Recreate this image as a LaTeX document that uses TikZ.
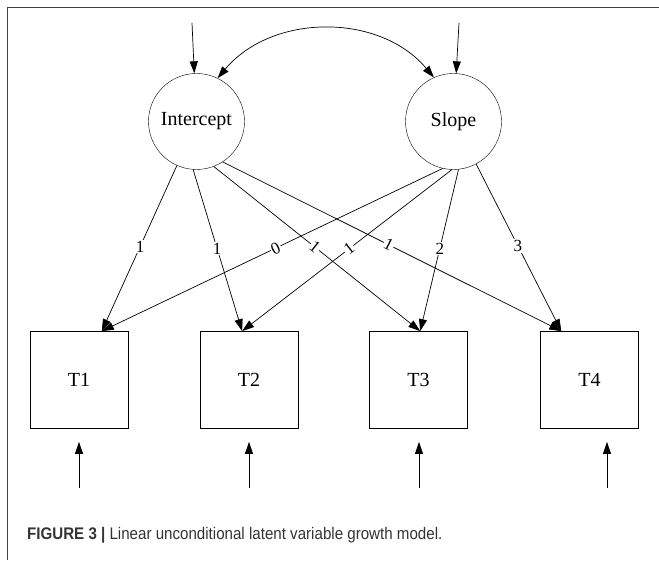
\documentclass[tikz,border=0pt]{standalone}
\usepackage{fontspec}
\setmainfont{Liberation Serif}
\newfontfamily\capfont{Liberation Sans}
\usetikzlibrary{arrows.meta, positioning}

\begin{document}
\begin{tikzpicture}[x=1pt,y=1pt,>={Triangle[length=12pt,width=8pt]},
		latent/.style={draw,circle,minimum size=96pt,inner sep=0pt,font=\fontsize{20}{24}\selectfont},
		obs/.style={draw,rectangle,minimum width=98pt,minimum height=97pt,inner sep=0pt,line width=0.8pt,font=\fontsize{20}{24}\selectfont},
		load/.style={->,line width=0.7pt},
		lbl/.style={fill=white,inner sep=1pt,pos=0.49,font=\fontsize{17}{19}\selectfont}]
		\useasboundingbox (0,0) rectangle (659,560);
		\draw [line width=0.8pt,color=black!75] (7,0) -- (7,553) -- (659,553);
		% latent growth factors
		\node [latent] (int) at (196.5,438.5) {Intercept};
		\node [latent] (sl) at (453.5,438.5) {Slope};
		% repeated measures
		\node [obs] (t1) at (79,180) {T1};
		\node [obs] (t2) at (249,180) {T2};
		\node [obs] (t3) at (418.5,180) {T3};
		\node [obs] (t4) at (589.5,180) {T4};
		% disturbances and residuals
		\coordinate (eint) at (192,537);
		\coordinate (esl) at (459,537);
		\coordinate (e1) at (79,72);
		\coordinate (e2) at (249,72);
		\coordinate (e3) at (419,72);
		\coordinate (e4) at (607,72);
		\draw [load] (eint) -- (int);
		\draw [load] (esl) -- (sl);
		\draw [load,shorten >=13pt] (e1) -- (e1 |- t1.south);
		\draw [load,shorten >=13pt] (e2) -- (e2 |- t2.south);
		\draw [load,shorten >=13pt] (e3) -- (e3 |- t3.south);
		\draw [load,shorten >=13pt] (e4) -- (e4 |- t4.south);
		\draw [<->,line width=0.7pt] (int.64) to[out=50,in=130] (sl.114);
		% loadings
		\draw [load] (int.246) -- node [lbl] {1} (t1.65);
		\draw [load] (int.266) -- node [lbl] {1} (t2.98);
		\draw [load] (int.291) -- node [lbl,sloped] {1} (t3.88);
		\draw [load] (int.303) -- node [lbl,sloped] {1} (t4.120);
		\draw [load] (sl.257) -- node [lbl,sloped] {0} (t1.65);
		\draw [load] (sl.268) -- node [lbl,sloped] {1} (t2.98);
		\draw [load] (sl.276) -- node [lbl] {2} (t3.88);
		\draw [load] (sl.298) -- node [lbl] {3} (t4.120);
		\node [anchor=base west,inner sep=0pt,text=black!80,font=\capfont\fontsize{16.8}{20}\selectfont] (cap) at (27,20.7) {\scalebox{0.9}[1]{\textbf{FIGURE 3 |} Linear unconditional latent variable growth model.}};
	\end{tikzpicture}
\end{document}
